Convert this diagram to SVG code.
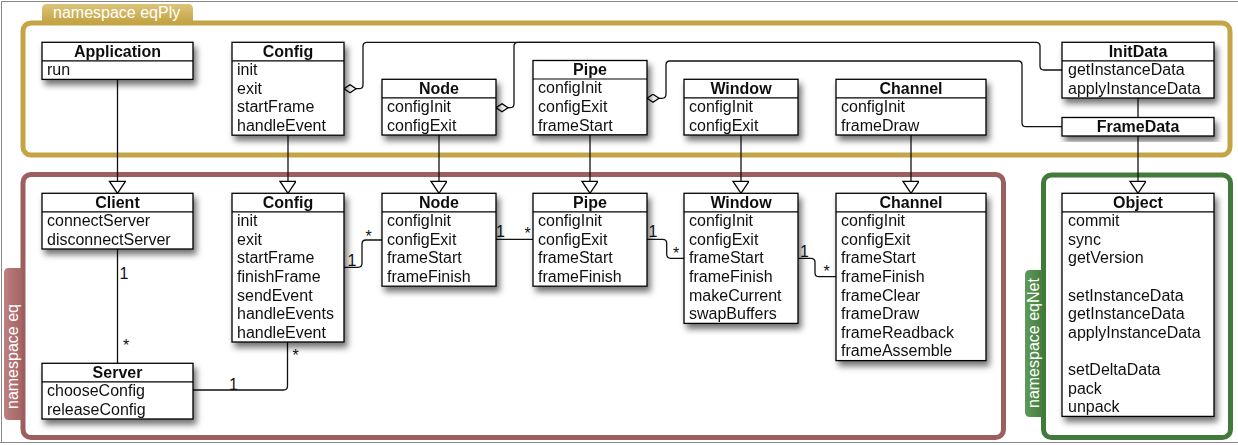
<svg xmlns="http://www.w3.org/2000/svg" width="1238" height="445" viewBox="0 0 1238 445">
<style>
.box{fill:#fff;stroke:#000;stroke-width:1.3}
.div{stroke:#000;stroke-width:1.2}
.t{font-family:"Liberation Sans",Arial,sans-serif;font-size:16px;font-weight:bold;fill:#111;text-anchor:middle}
.m{font-family:"Liberation Sans",Arial,sans-serif;font-size:16px;fill:#111}
.l{font-family:"Liberation Sans",Arial,sans-serif;font-size:16px;fill:#111}
.ns{font-family:"Liberation Sans",Arial,sans-serif;font-size:16px;fill:#fff}
.c{fill:none;stroke:#111;stroke-width:1.3}
.inh{marker-end:url(#tri)}
.agg{marker-start:url(#dia)}
</style>
<defs>
<filter id="sh" x="-20%" y="-20%" width="150%" height="150%">
<feDropShadow dx="3" dy="5" stdDeviation="3" flood-color="#000" flood-opacity="0.55"/>
</filter>
<marker id="tri" markerUnits="userSpaceOnUse" markerWidth="14" markerHeight="18" refX="13" refY="8" orient="auto" viewBox="0 0 14 18">
<path d="M1,0 L13,8 L1,16 Z" fill="#fff" stroke="#000" stroke-width="1.3"/>
</marker>
<marker id="dia" markerUnits="userSpaceOnUse" markerWidth="14" markerHeight="10" refX="0.5" refY="4.5" orient="auto" viewBox="0 0 14 10">
<path d="M0.5,4.5 L6.5,0.5 L12.5,4.5 L6.5,8.5 Z" fill="#fff" stroke="#000" stroke-width="1.3"/>
</marker>
<linearGradient id="gGold" x1="0" y1="0" x2="0" y2="1">
<stop offset="0" stop-color="#dcc57a"/><stop offset="1" stop-color="#c4a445"/>
</linearGradient>
<linearGradient id="gRed" x1="0" y1="0" x2="1" y2="0">
<stop offset="0" stop-color="#bd7e7e"/><stop offset="1" stop-color="#a46464"/>
</linearGradient>
<linearGradient id="gGreen" x1="0" y1="0" x2="1" y2="0">
<stop offset="0" stop-color="#5f9a58"/><stop offset="1" stop-color="#457f3f"/>
</linearGradient>
</defs>
<rect x="0" y="0" width="1238" height="445" fill="#fff"/>
<path d="M1.5,442.5 V1.5 H1238 M0,442.5 H1238" fill="none" stroke="#888" stroke-width="1"/>

<g id="ns-eqPly">
<rect x="23" y="23" width="1207" height="132" rx="8" fill="none" stroke="#c4a445" stroke-width="5"/>
<path d="M42,22 V9 Q42,4 47,4 H188 Q193,4 193,9 V22 Z" fill="url(#gGold)"/>
<text class="ns" x="53" y="18">namespace eqPly</text>
</g>
<g id="ns-eq">
<rect x="23" y="174.5" width="980.5" height="263" rx="8" fill="none" stroke="#9c5e5e" stroke-width="5"/>
<path d="M22,268 H9 Q4,268 4,273 V415 Q4,420 9,420 H22 Z" fill="url(#gRed)"/>
<text class="ns" transform="translate(18,409) rotate(-90)">namespace eq</text>
</g>
<g id="ns-eqNet">
<rect x="1043.5" y="175" width="187" height="262.5" rx="8" fill="none" stroke="#427a3c" stroke-width="5"/>
<path d="M1042,270 H1030 Q1025,270 1025,275 V412 Q1025,417 1030,417 H1042 Z" fill="url(#gGreen)"/>
<text class="ns" transform="translate(1039,408) rotate(-90)">namespace eqNet</text>
</g>

<g id="connectors">
<path class="c inh" d="M117.5,79.4 V193.3"/>
<path class="c inh" d="M288,135.2 V193.3"/>
<path class="c inh" d="M439,135 V193.3"/>
<path class="c inh" d="M590,134.8 V193.3"/>
<path class="c inh" d="M741,135 V193.3"/>
<path class="c inh" d="M911,135 V193.3"/>
<path class="c inh" d="M1138,136 V193.3"/>
<path class="c" d="M1138,98 V117.5"/>
<path class="c agg" d="M344,88.7 H359 Q363,88.7 363,84.7 V46.3 Q363,42.3 367,42.3 H1036 Q1040,42.3 1040,46.3 V66 Q1040,70 1044,70 H1062"/>
<path class="c agg" d="M496,107.7 H510 Q514,107.7 514,103.7 V46.3 Q514,42.3 518,42.3 H560"/>
<path class="c agg" d="M647,98.3 H662 Q666,98.3 666,94.3 V65 Q666,61 670,61 H1018 Q1022,61 1022,65 V122.7 Q1022,126.7 1026,126.7 H1062"/>
<path class="c" d="M117.5,249 V363.3"/>
<path class="c" d="M193,390 H283.5 Q287.5,390 287.5,386 V342"/>
<path class="c" d="M344,267.3 H358 Q362,267.3 362,263.3 V244 Q362,240 366,240 H382"/>
<path class="c" d="M496,239.3 H533"/>
<path class="c" d="M647,239.3 H662.7 Q666.7,239.3 666.7,243.3 V254.3 Q666.7,258.3 670.7,258.3 H684"/>
<path class="c" d="M798,258.3 H811 Q815,258.3 815,262.3 V272.7 Q815,276.7 819,276.7 H836"/>
<text class="l" x="119.5" y="279">1</text>
<text class="l" x="123" y="351">*</text>
<text class="l" x="229" y="389.5">1</text>
<text class="l" x="292.5" y="361">*</text>
<text class="l" x="347.5" y="266">1</text>
<text class="l" x="365.5" y="241.5">*</text>
<text class="l" x="496" y="237">1</text>
<text class="l" x="524.5" y="239">*</text>
<text class="l" x="648.5" y="237">1</text>
<text class="l" x="673" y="259">*</text>
<text class="l" x="800" y="256.5">1</text>
<text class="l" x="823.5" y="277">*</text>
</g>

<g id="ply-Application" filter="url(#sh)">
<rect class="box" x="42" y="42.3" width="151" height="37.1"/>
<line class="div" x1="42" y1="60.8" x2="193" y2="60.8"/>
<text class="t" x="117.5" y="56.5">Application</text>
<text class="m" x="47" y="75.1">run</text>
</g>
<g id="ply-Config" filter="url(#sh)">
<rect class="box" x="232" y="42.3" width="112" height="92.9"/>
<line class="div" x1="232" y1="60.8" x2="344" y2="60.8"/>
<text class="t" x="288" y="56.5">Config</text>
<text class="m" x="237" y="75.1">init</text>
<text class="m" x="237" y="93.7">exit</text>
<text class="m" x="237" y="112.3">startFrame</text>
<text class="m" x="237" y="130.9">handleEvent</text>
</g>
<g id="ply-Node" filter="url(#sh)">
<rect class="box" x="382" y="79.3" width="114" height="55.7"/>
<line class="div" x1="382" y1="97.8" x2="496" y2="97.8"/>
<text class="t" x="439" y="93.5">Node</text>
<text class="m" x="387" y="112.1">configInit</text>
<text class="m" x="387" y="130.7">configExit</text>
</g>
<g id="ply-Pipe" filter="url(#sh)">
<rect class="box" x="533" y="60.5" width="114" height="74.3"/>
<line class="div" x1="533" y1="79" x2="647" y2="79"/>
<text class="t" x="590" y="74.7">Pipe</text>
<text class="m" x="538" y="93.3">configInit</text>
<text class="m" x="538" y="111.9">configExit</text>
<text class="m" x="538" y="130.5">frameStart</text>
</g>
<g id="ply-Window" filter="url(#sh)">
<rect class="box" x="684" y="79.3" width="114" height="55.7"/>
<line class="div" x1="684" y1="97.8" x2="798" y2="97.8"/>
<text class="t" x="741" y="93.5">Window</text>
<text class="m" x="689" y="112.1">configInit</text>
<text class="m" x="689" y="130.7">configExit</text>
</g>
<g id="ply-Channel" filter="url(#sh)">
<rect class="box" x="836" y="79.3" width="150" height="55.7"/>
<line class="div" x1="836" y1="97.8" x2="986" y2="97.8"/>
<text class="t" x="911" y="93.5">Channel</text>
<text class="m" x="841" y="112.1">configInit</text>
<text class="m" x="841" y="130.7">frameDraw</text>
</g>
<g id="ply-InitData" filter="url(#sh)">
<rect class="box" x="1062" y="42.3" width="152" height="55.7"/>
<line class="div" x1="1062" y1="60.8" x2="1214" y2="60.8"/>
<text class="t" x="1138" y="56.5">InitData</text>
<text class="m" x="1068" y="75.1">getInstanceData</text>
<text class="m" x="1068" y="93.7">applyInstanceData</text>
</g>
<g id="ply-FrameData" filter="url(#sh)">
<rect class="box" x="1062" y="117.5" width="152" height="18.5"/>
<text class="t" x="1138" y="131.7">FrameData</text>
</g>

<g id="eq-Client" filter="url(#sh)">
<rect class="box" x="42" y="193.3" width="151" height="55.7"/>
<line class="div" x1="42" y1="211.8" x2="193" y2="211.8"/>
<text class="t" x="117.5" y="207.5">Client</text>
<text class="m" x="47" y="226.1">connectServer</text>
<text class="m" x="47" y="244.7">disconnectServer</text>
</g>
<g id="eq-Server" filter="url(#sh)">
<rect class="box" x="42" y="363.3" width="151" height="55.7"/>
<line class="div" x1="42" y1="381.8" x2="193" y2="381.8"/>
<text class="t" x="117.5" y="377.5">Server</text>
<text class="m" x="47" y="396.1">chooseConfig</text>
<text class="m" x="47" y="414.7">releaseConfig</text>
</g>
<g id="eq-Config" filter="url(#sh)">
<rect class="box" x="232" y="193.3" width="112" height="148.7"/>
<line class="div" x1="232" y1="211.8" x2="344" y2="211.8"/>
<text class="t" x="288" y="207.5">Config</text>
<text class="m" x="237" y="226.1">init</text>
<text class="m" x="237" y="244.7">exit</text>
<text class="m" x="237" y="263.3">startFrame</text>
<text class="m" x="237" y="281.9">finishFrame</text>
<text class="m" x="237" y="300.5">sendEvent</text>
<text class="m" x="237" y="319.1">handleEvents</text>
<text class="m" x="237" y="337.7">handleEvent</text>
</g>
<g id="eq-Node" filter="url(#sh)">
<rect class="box" x="382" y="193.3" width="114" height="92.9"/>
<line class="div" x1="382" y1="211.8" x2="496" y2="211.8"/>
<text class="t" x="439" y="207.5">Node</text>
<text class="m" x="387" y="226.1">configInit</text>
<text class="m" x="387" y="244.7">configExit</text>
<text class="m" x="387" y="263.3">frameStart</text>
<text class="m" x="387" y="281.9">frameFinish</text>
</g>
<g id="eq-Pipe" filter="url(#sh)">
<rect class="box" x="533" y="193.3" width="114" height="92.9"/>
<line class="div" x1="533" y1="211.8" x2="647" y2="211.8"/>
<text class="t" x="590" y="207.5">Pipe</text>
<text class="m" x="538" y="226.1">configInit</text>
<text class="m" x="538" y="244.7">configExit</text>
<text class="m" x="538" y="263.3">frameStart</text>
<text class="m" x="538" y="281.9">frameFinish</text>
</g>
<g id="eq-Window" filter="url(#sh)">
<rect class="box" x="684" y="193.3" width="114" height="130.1"/>
<line class="div" x1="684" y1="211.8" x2="798" y2="211.8"/>
<text class="t" x="741" y="207.5">Window</text>
<text class="m" x="689" y="226.1">configInit</text>
<text class="m" x="689" y="244.7">configExit</text>
<text class="m" x="689" y="263.3">frameStart</text>
<text class="m" x="689" y="281.9">frameFinish</text>
<text class="m" x="689" y="300.5">makeCurrent</text>
<text class="m" x="689" y="319.1">swapBuffers</text>
</g>
<g id="eq-Channel" filter="url(#sh)">
<rect class="box" x="836" y="193.3" width="150" height="167.3"/>
<line class="div" x1="836" y1="211.8" x2="986" y2="211.8"/>
<text class="t" x="911" y="207.5">Channel</text>
<text class="m" x="841" y="226.1">configInit</text>
<text class="m" x="841" y="244.7">configExit</text>
<text class="m" x="841" y="263.3">frameStart</text>
<text class="m" x="841" y="281.9">frameFinish</text>
<text class="m" x="841" y="300.5">frameClear</text>
<text class="m" x="841" y="319.1">frameDraw</text>
<text class="m" x="841" y="337.7">frameReadback</text>
<text class="m" x="841" y="356.3">frameAssemble</text>
</g>
<g id="eqNet-Object" filter="url(#sh)">
<rect class="box" x="1062" y="193.3" width="152" height="223.1"/>
<line class="div" x1="1062" y1="211.8" x2="1214" y2="211.8"/>
<text class="t" x="1138" y="207.5">Object</text>
<text class="m" x="1068" y="226.1">commit</text>
<text class="m" x="1068" y="244.7">sync</text>
<text class="m" x="1068" y="263.3">getVersion</text>
<text class="m" x="1068" y="300.5">setInstanceData</text>
<text class="m" x="1068" y="319.1">getInstanceData</text>
<text class="m" x="1068" y="337.7">applyInstanceData</text>
<text class="m" x="1068" y="374.9">setDeltaData</text>
<text class="m" x="1068" y="393.5">pack</text>
<text class="m" x="1068" y="412.1">unpack</text>
</g>
</svg>
